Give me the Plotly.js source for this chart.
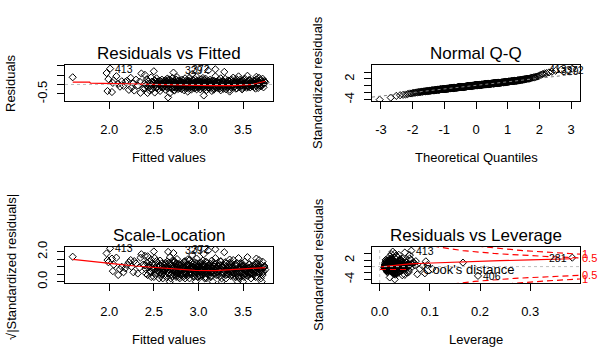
<!DOCTYPE html>
<html><head><meta charset="utf-8">
<script src="https://cdn.plot.ly/plotly-3.0.1.min.js"></script>
<style>html,body{margin:0;padding:0;background:#fff}#chart{width:614px;height:364px}</style>
</head><body><div id="chart"></div>
<script>
// ---- data (lm diagnostics) ----
const fitted = [
 1.97,1.98,1.99,2.03,2.04,2.05,2.08,2.10,2.12,2.14,
 2.16,2.18,2.20,2.22,2.24,2.25,2.27,2.28,2.30,2.32,
 2.34,2.35,2.36,2.38,
 2.40,2.40,2.41,2.41,2.42,2.43,2.44,2.44,2.45,2.46,
 2.46,2.47,2.47,2.48,2.48,2.49,2.50,2.50,2.50,2.51,
 2.51,2.52,2.52,2.53,2.53,2.53,2.54,2.54,2.55,2.55,
 2.56,2.56,2.57,2.57,2.57,2.58,2.58,2.59,2.59,2.59,
 2.60,2.60,2.60,
 2.61,2.61,2.62,2.62,2.63,2.63,2.64,2.64,2.65,2.65,
 2.66,2.66,2.66,2.67,2.67,2.68,2.68,2.68,2.69,2.69,
 2.70,2.70,2.70,2.71,2.71,2.72,2.72,2.72,2.73,2.73,
 2.73,2.74,2.74,2.74,2.75,2.75,2.75,2.76,2.76,2.76,
 2.77,2.77,2.77,2.78,2.78,2.78,2.79,2.79,2.79,2.80,
 2.62,2.64,2.67,2.69,2.71,2.73,2.75,2.77,2.63,2.70,
 2.76,2.79,
 2.80,2.81,2.81,2.81,2.82,2.82,2.82,2.83,2.83,2.83,
 2.84,2.84,2.84,2.85,2.85,2.85,2.86,2.86,2.86,2.87,
 2.87,2.87,2.88,2.88,2.88,2.89,2.89,2.89,2.90,2.90,
 2.90,2.91,2.91,2.91,2.92,2.92,2.92,2.93,2.93,2.93,
 2.94,2.94,2.94,2.95,2.95,2.95,2.96,2.96,2.96,2.97,
 2.97,2.97,2.98,2.98,2.98,2.99,2.99,2.99,3.00,3.00,
 2.83,2.86,2.89,2.92,2.95,2.98,
 3.00,3.01,3.01,3.01,3.02,3.02,3.02,3.03,3.03,3.03,
 3.04,3.04,3.04,3.05,3.05,3.05,3.06,3.06,3.06,3.07,
 3.07,3.07,3.08,3.08,3.08,3.09,3.09,3.09,3.10,3.10,
 3.10,3.11,3.11,3.12,3.12,3.12,3.13,3.13,3.13,3.14,
 3.14,3.14,3.15,3.15,3.15,3.16,3.16,3.16,3.17,3.17,
 3.17,3.18,3.18,3.18,3.19,3.19,3.19,3.20,3.20,3.20,
 3.02,3.05,3.08,3.11,3.14,3.17,3.04,3.13,
 3.21,3.21,3.22,3.22,3.23,3.23,3.24,3.24,3.25,3.25,
 3.26,3.26,3.27,3.27,3.28,3.28,3.29,3.29,3.30,3.30,
 3.31,3.31,3.32,3.32,3.33,3.33,3.34,3.34,3.35,3.35,
 3.36,3.36,3.37,3.37,3.38,3.38,3.39,3.39,3.40,3.40,
 3.22,3.24,3.26,3.28,3.30,3.32,3.34,3.36,3.38,3.23,
 3.27,3.31,3.35,3.39,3.25,3.33,
 3.41,3.41,3.42,3.42,3.43,3.43,3.44,3.44,3.45,3.45,
 3.46,3.46,3.47,3.47,3.48,3.48,3.49,3.49,3.50,3.50,
 3.51,3.51,3.52,3.52,3.53,3.53,3.54,3.54,3.55,3.55,
 3.56,3.56,3.57,3.57,3.58,3.58,3.59,3.59,3.60,3.60,
 3.42,3.44,3.46,3.48,3.50,3.52,3.54,3.56,3.58,3.43,
 3.45,3.47,3.49,3.51,3.53,3.55,3.57,3.59,3.41,3.50,
 3.61,3.61,3.62,3.62,3.63,3.63,3.64,3.64,3.65,3.65,
 3.66,3.66,3.67,3.67,3.68,3.68,3.69,3.69,3.70,3.70,
 3.71,3.71,3.72,3.72,3.73,3.73,3.74,3.75,3.62,3.64,
 3.66,3.68,3.70,3.72,3.74,3.65
];
const stdres = [
 3.6,-2.1,1.7,-2.4,0.5,1.3,2.6,0.2,-0.7,1.0,
 -0.4,0.8,1.25,-1.7,2.1,-1.0,0.4,-1.9,1.5,-0.3,
 0.9,-2.6,3.4,-1.3,
 3.0,-1.2,0.7,-0.3,1.6,0.2,-0.9,1.1,-1.8,0.4,
 -0.5,2.2,-0.1,0.9,-1.5,0.6,4.1,-0.7,0.1,-2.5,
 1.3,-0.2,0.8,-1.1,0.3,1.9,-0.6,0.5,-1.4,1.0,
 -0.05,0.35,-2.0,1.2,-0.4,0.15,0.75,-0.85,1.5,-0.25,
 0.55,-1.0,0.05,
 0.4,-0.8,1.2,-0.2,0.6,-1.6,0.1,0.9,-0.5,1.8,
 -4.0,0.3,-1.1,0.7,-0.35,-2.7,1.4,0.0,-0.7,0.5,
 1.0,-1.3,0.25,-0.15,2.0,3.7,-0.6,0.8,-1.9,0.45,
 1.1,-0.45,0.2,-1.0,0.65,1.5,-0.1,-0.9,0.35,2.3,
 -0.3,0.95,-1.4,0.1,-0.55,1.25,0.7,-1.2,0.05,-0.25,
 0.55,-0.75,1.65,-0.05,0.85,-1.7,0.3,-0.4,1.35,-0.95,
 0.15,-0.65,
 -0.6,0.8,-1.4,0.2,1.5,-0.3,0.55,-0.9,1.1,-0.1,
 0.35,-1.8,0.7,-0.45,1.9,0.05,-1.1,0.4,-0.2,1.3,
 -0.7,0.9,-2.2,0.15,0.6,-0.55,1.2,-1.3,0.3,-0.05,
 2.1,-0.85,0.45,-0.35,1.0,-1.6,0.25,3.2,-0.65,0.75,
 -0.15,1.4,-1.0,0.1,-0.4,0.65,-1.2,1.7,-0.25,0.5,
 -0.8,0.0,1.05,-1.5,0.35,-0.5,0.85,-0.1,1.25,-0.95,
 0.2,-0.3,0.95,-0.7,0.45,2.4,
 0.3,-0.7,1.0,-0.15,0.6,-1.5,0.1,1.6,-0.4,0.45,
 -1.0,0.8,-0.25,2.0,-0.6,0.2,-3.4,0.65,-1.2,0.35,
 1.3,-0.05,-0.85,0.5,1.8,-0.35,0.05,-1.7,0.9,-0.5,
 0.25,1.15,-0.9,-0.2,0.7,-1.3,0.4,1.45,-0.65,0.15,
 -0.1,0.95,-2.0,0.55,-0.45,1.2,-0.8,0.0,0.75,-1.1,
 0.3,-0.3,1.05,-1.4,0.6,2.5,-0.55,0.2,-0.95,0.85,
 -0.2,1.35,0.1,-0.75,0.4,-1.6,0.65,-0.35,
 -0.4,0.9,-1.1,0.2,1.4,-0.6,0.5,-0.15,-1.8,0.75,
 0.05,-0.9,1.1,-0.3,0.35,-1.3,3.9,0.6,-0.5,1.7,
 -0.05,-1.5,0.85,0.25,-0.75,1.25,-0.25,0.45,-2.2,0.95,
 -0.35,0.15,1.55,-1.0,0.65,-0.55,2.1,-0.1,0.3,-0.8,
 0.4,-1.2,0.0,1.0,-0.45,0.55,-0.65,1.35,-0.2,0.7,
 -0.95,0.2,-1.6,0.8,1.9,-0.3,
 0.5,-0.6,1.1,-0.1,0.25,-1.2,0.8,0.0,2.5,-0.4,
 0.65,-0.85,1.5,0.15,-0.3,0.95,-1.5,0.4,1.2,-0.2,
 0.1,-0.7,0.7,1.8,-0.5,0.3,-1.0,0.55,2.7,-0.15,
 0.85,-0.35,0.2,1.3,-0.9,0.45,-0.05,1.0,-0.6,0.35,
 -1.3,0.6,0.05,-0.45,1.05,-0.25,0.75,-0.75,0.3,1.6,
 -0.1,0.9,-1.1,0.2,0.5,-0.55,1.4,-0.3,0.7,0.0,
 0.6,-0.3,1.2,0.2,-0.8,0.9,0.4,-0.1,1.6,-0.5,
 0.75,0.1,-1.1,1.0,0.3,2.1,-0.35,0.55,1.35,-0.6,
 0.85,0.0,-0.2,1.8,0.45,-0.9,1.1,0.65,0.25,-1.3,
 1.45,0.7,-0.05,0.35,0.95,2.4
];
const hat = [
 .060,.090,.072,.075,.095,.068,.060,.055,.080,.050,
 .048,.045,.166,.058,.052,.044,.070,.055,.046,.040,
 .038,.050,.033,.042,
 .035,.028,.045,.032,.040,.052,.030,.036,.026,.048,
 .033,.041,.024,.038,.029,.044,.030,.022,.036,.031,
 .027,.047,.034,.020,.039,.025,.043,.032,.028,.050,
 .023,.037,.030,.026,.042,.034,.021,.045,.029,.033,
 .038,.027,.031,
 .018,.025,.031,.014,.022,.028,.035,.019,.026,.040,
 .030,.016,.024,.033,.020,.045,.027,.013,.029,.022,
 .036,.017,.025,.031,.021,.038,.015,.027,.034,.019,
 .023,.030,.012,.026,.037,.020,.028,.016,.032,.041,
 .018,.025,.029,.014,.022,.034,.019,.027,.015,.024,
 .033,.020,.092,.017,.028,.039,.021,.026,.030,.016,
 .023,.018,
 .021,.015,.027,.012,.019,.024,.010,.031,.017,.022,
 .014,.028,.018,.011,.025,.016,.020,.013,.026,.019,
 .015,.023,.030,.012,.018,.021,.014,.027,.016,.011,
 .024,.019,.013,.022,.017,.029,.012,.020,.015,.025,
 .010,.018,.023,.014,.020,.016,.026,.013,.019,.011,
 .022,.015,.017,.028,.013,.021,.016,.012,.024,.018,
 .086,.014,.019,.105,.013,.022,
 .013,.019,.024,.011,.016,.027,.014,.021,.009,.018,
 .025,.012,.017,.022,.015,.010,.020,.013,.028,.016,
 .011,.023,.018,.014,.026,.012,.019,.015,.021,.010,
 .017,.024,.013,.016,.011,.022,.014,.020,.012,.018,
 .009,.025,.031,.015,.013,.019,.016,.011,.021,.014,
 .018,.012,.017,.023,.015,.020,.013,.016,.024,.011,
 .019,.014,.017,.012,.020,.015,.018,.013,
 .016,.022,.013,.028,.019,.015,.024,.011,.030,.018,
 .014,.021,.026,.012,.020,.017,.023,.013,.027,.019,
 .015,.032,.018,.012,.022,.016,.025,.014,.035,.020,
 .013,.024,.017,.029,.015,.021,.012,.026,.018,.033,
 .014,.023,.016,.020,.012,.027,.019,.015,.031,.017,
 .022,.013,.025,.018,.014,.021,
 .020,.027,.016,.032,.023,.018,.029,.014,.025,.021,
 .035,.017,.026,.019,.030,.015,.024,.038,.019,.028,
 .016,.033,.021,.026,.018,.040,.023,.017,.030,.020,
 .036,.022,.027,.019,.031,.024,.042,.018,.028,.034,
 .025,.020,.037,.022,.029,.019,.033,.024,.045,.021,
 .027,.023,.031,.026,.039,.022,.030,.048,.025,.032,
 .035,.042,.030,.050,.038,.046,.033,.055,.040,.036,
 .048,.031,.058,.044,.037,.062,.041,.034,.052,.045,
 .039,.065,.047,.043,.056,.049,.068,.060,.038,.051,
 .044,.057,.053,.059,.064,.046
];
// the labelled observations
const specialIds    = [281, 329, 372, 406, 413];
const specialFitted = [1.59, 3.11, 3.19, 2.43, 2.01];
const specialStd    = [2.8, 4.4, 4.7, -2.9, 5.0];
const specialHat    = [0.384, 0.050, 0.026, 0.196, 0.063];
const sigma = 0.174;      // residual standard error
const nCoef = 10;         // number of coefficients
const cookLevels = [0.5, 1];
// red smoothers
const smooth1F = [1.59, 1.78, 1.79, 2.33, 2.48, 2.95, 3.15, 3.40, 3.61, 3.75];
const smooth1R = [0.12, 0.12, 0.07, 0.01, 0.0, -0.03, -0.06, -0.06, 0.01, 0.17];
const smooth3F = [1.59, 1.84, 2.06, 2.29, 2.51, 2.74, 2.96, 3.19, 3.37, 3.56, 3.75];
const smooth3V = [1.50, 1.32, 1.19, 1.05, 0.94, 0.83, 0.76, 0.74, 0.79, 0.87, 0.94];
const smooth4H = [0.003, 0.02, 0.04, 0.06, 0.09, 0.13, 0.18, 0.24, 0.30, 0.384];
const smooth4S = [-0.1, 0.2, 0.55, 0.85, 1.05, 1.3, 1.55, 1.85, 2.1, 2.45];

// ---- derived quantities (as plot.lm does) ----
function qnorm(p){
  const a=[-3.969683028665376e+01,2.209460984245205e+02,-2.759285104469687e+02,1.383577518672690e+02,-3.066479806614716e+01,2.506628277459239e+00];
  const b=[-5.447609879822406e+01,1.615858368580409e+02,-1.556989798598866e+02,6.680131188771972e+01,-1.328068155288572e+01];
  const c=[-7.784894002430293e-03,-3.223964580411365e-01,-2.400758277161838e+00,-2.549671084740910e+00,4.374664141464968e+00,2.938163982698783e+00];
  const d=[7.784695709041462e-03,3.224671290700398e-01,2.445134137142996e+00,3.754408661907416e+00];
  const pl=0.02425;
  if(p<pl){const q=Math.sqrt(-2*Math.log(p));return (((((c[0]*q+c[1])*q+c[2])*q+c[3])*q+c[4])*q+c[5])/((((d[0]*q+d[1])*q+d[2])*q+d[3])*q+1);}
  if(p>1-pl){const q=Math.sqrt(-2*Math.log(1-p));return -(((((c[0]*q+c[1])*q+c[2])*q+c[3])*q+c[4])*q+c[5])/((((d[0]*q+d[1])*q+d[2])*q+d[3])*q+1);}
  const q=p-0.5,r=q*q;return (((((a[0]*r+a[1])*r+a[2])*r+a[3])*r+a[4])*r+a[5])*q/(((((b[0]*r+b[1])*r+b[2])*r+b[3])*r+b[4])*r+1);
}
const m = Math.min(fitted.length, stdres.length, hat.length);
const F = fitted.slice(0,m).concat(specialFitted);
const S = stdres.slice(0,m).concat(specialStd);
const H = hat.slice(0,m).concat(specialHat);
const n = F.length;
const ids = []; {let k=1; for(let i=0;i<m;i++){while(specialIds.includes(k))k++; ids.push(k++);} ids.push(...specialIds);}
const R = S.map((s,i)=>s*sigma*Math.sqrt(1-H[i]));
const SQ = S.map(s=>Math.sqrt(Math.abs(s)));
const ord = [...Array(n).keys()].sort((a,b)=>S[a]-S[b]);
const aP = n<=10?3/8:0.5;
const QX = new Array(n); ord.forEach((idx,rank)=>{QX[idx]=qnorm((rank+1-aP)/(n+1-2*aP));});
const srt = ord.map(i=>S[i]);
function quant(v,p){const h=(v.length-1)*p,lo=Math.floor(h);return v[lo]+(h-lo)*(v[Math.min(lo+1,v.length-1)]-v[lo]);}
const qSlope=(quant(srt,.75)-quant(srt,.25))/(qnorm(.75)-qnorm(.25));
const qInt=quant(srt,.25)-qSlope*qnorm(.25);
const cook = S.map((s,i)=>s*s*H[i]/(nCoef*(1-H[i])));
const top3 = v=>[...Array(n).keys()].sort((a,b)=>v[b]-v[a]).slice(0,3);
const showR = top3(R.map(Math.abs)), showS = top3(S.map(Math.abs)), showC = top3(cook);

// ---- axis ranges (R style: data range, extended) ----
const ext=(lo,hi,f)=>[lo-(hi-lo)*f,hi+(hi-lo)*f];
const fr = ext(Math.min(...F),Math.max(...F),0.04);
const r1 = ext(...ext(Math.min(...R),Math.max(...R),0.08),0.04);
const qxr = ext(Math.min(...QX),Math.max(...QX),0.04);
const sLo=Math.min(...S), sHi=Math.max(...S);
const r2 = ext(sLo, sHi+(sHi-sLo)*0.075, 0.04);
const r3 = ext(0, Math.max(...SQ), 0.04);
const hr = ext(0, Math.max(...H), 0.04);
const r4 = ext(...ext(sLo,sHi,0.08),0.04);

const FONT = 'Liberation Sans, Arial, sans-serif';
const W=614, Hh=364;
const px = v=>v/W, py = v=>1-v/Hh;
const dom = {x1:[px(65),px(273)], x2:[px(372),px(580)], yt:[py(101),py(65)], yb:[py(283),py(247)]};

const mk = {symbol:'diamond-open', size:5.5, color:'black', line:{width:1, color:'black'}};
const pts = (x,y,xa,ya)=>({type:'scatter',mode:'markers',x,y,xaxis:xa,yaxis:ya,marker:mk,hoverinfo:'skip'});
const red = (x,y,xa,ya,dash)=>({type:'scatter',mode:'lines',x,y,xaxis:xa,yaxis:ya,line:{color:'red',width:1.2,dash:dash||'solid'},hoverinfo:'skip'});

// cook contours
const hh=[]; {const h0=Math.min(Math.min(...H),Math.max(...H)/100); for(let i=0;i<=100;i++) hh.push(h0+(hr[1]-h0)*i/100);}
const cookTraces=[];
cookLevels.forEach(cl=>{
  const yv=hh.map(h=>Math.sqrt(cl*nCoef*(1-h)/h));
  cookTraces.push(red(hh,yv,'x4','y5','6px,4px'));
  cookTraces.push(red(hh,yv.map(v=>-v),'x4','y5','6px,4px'));
});
const xmax=Math.min(0.99,hr[1]);
const ymult=Math.sqrt(nCoef*(1-xmax)/xmax);
const aty=cookLevels.map(c=>Math.sqrt(c)*ymult);

const data = [
  pts(F,R,'x','y'), red(smooth1F,smooth1R,'x','y'),
  pts(QX,S,'x2','y2'),
  pts(F,SQ,'x3','y3'), red(smooth3F,smooth3V,'x3','y3'),
  pts(H,S,'x4','y4'), red(smooth4H,smooth4S,'x4','y4'),
  ...cookTraces
];

const ax = (o)=>Object.assign({showgrid:false,zeroline:false,showline:true,mirror:true,linecolor:'black',linewidth:1,
  ticks:'outside',ticklen:7,tickwidth:1,tickcolor:'black',tickfont:{family:FONT,size:13,color:'black'},fixedrange:true},o);
const xl = v=>v.toFixed(1);
const layout = {
  width:W,height:Hh,margin:{l:0,r:0,t:0,b:0},paper_bgcolor:'white',plot_bgcolor:'white',showlegend:false,
  font:{family:FONT,color:'black'},
  xaxis: ax({domain:dom.x1,anchor:'y',range:fr,tickvals:[2,2.5,3,3.5],ticktext:[2,2.5,3,3.5].map(xl),ticklabelstandoff:9}),
  yaxis: ax({domain:dom.yt,anchor:'x',range:r1,tickvals:[-0.5,0,0.5,1],ticktext:['-0.5','','',''],tickangle:-90,ticklabelstandoff:5}),
  xaxis2: ax({domain:dom.x2,anchor:'y2',range:qxr,tickvals:[-3,-2,-1,0,1,2,3],ticktext:['-3','-2','-1','0','1','2','3'],ticklabelstandoff:9}),
  yaxis2: ax({domain:dom.yt,anchor:'x2',range:r2,tickvals:[-4,-2,0,2,4],ticktext:['-4','','','2',''],tickangle:-90,ticklabelstandoff:5}),
  xaxis3: ax({domain:dom.x1,anchor:'y3',range:fr,tickvals:[2,2.5,3,3.5],ticktext:[2,2.5,3,3.5].map(xl),ticklabelstandoff:9}),
  yaxis3: ax({domain:dom.yb,anchor:'x3',range:r3,tickvals:[0,0.5,1,1.5,2],ticktext:['0.0','','','','2.0'],tickangle:-90,ticklabelstandoff:5}),
  xaxis4: ax({domain:dom.x2,anchor:'y4',range:hr,tickvals:[0,0.1,0.2,0.3],ticktext:['0.0','0.1','0.2','0.3'],ticklabelstandoff:9}),
  yaxis4: ax({domain:dom.yb,anchor:'x4',range:r4,tickvals:[-4,-2,0,2,4],ticktext:['-4','','','2',''],tickangle:-90,ticklabelstandoff:5}),
  yaxis5: {overlaying:'y4',side:'right',anchor:'x4',range:r4,showgrid:false,zeroline:false,showline:false,ticks:'',
    tickvals:[...aty.map(v=>-v).reverse(),...aty],ticktext:[...cookLevels.slice().reverse(),...cookLevels].map(String),
    tickfont:{family:FONT,size:11,color:'red'},ticklabelstandoff:1,fixedrange:true},
  shapes:[
    {type:'line',xref:'x domain',yref:'y',x0:0,x1:1,y0:0,y1:0,line:{color:'#bebebe',width:1,dash:'dot'}},
    {type:'line',xref:'x2',yref:'y2',x0:qxr[0],x1:qxr[1],y0:qInt+qSlope*qxr[0],y1:qInt+qSlope*qxr[1],line:{color:'#7f7f7f',width:1,dash:'dot'}},
    {type:'line',xref:'x4 domain',yref:'y4',x0:0,x1:1,y0:0,y1:0,line:{color:'#bebebe',width:1,dash:'dot'}},
    {type:'line',xref:'x4',yref:'y4 domain',x0:0,x1:0,y0:0,y1:1,line:{color:'#bebebe',width:1,dash:'dot'}},
    {type:'line',xref:'paper',yref:'paper',x0:px(380),x1:px(409),y0:py(269.5),y1:py(269.5),line:{color:'red',width:1,dash:'6px,4px'}}
  ],
  annotations:[]
};
const ann = (text,x,y,size,angle)=>({text,x:px(x),y:py(y),xref:'paper',yref:'paper',showarrow:false,xanchor:'center',yanchor:'middle',textangle:angle||0,font:{family:FONT,size,color:'black'}});
layout.annotations.push(
  ann('Residuals vs Fitted',169,53,17), ann('Normal Q-Q',476,53,17),
  ann('Scale-Location',169,235,17), ann('Residuals vs Leverage',476,235,17),
  ann('Fitted values',169,157.5,13), ann('Theoretical Quantiles',476,157.5,13),
  ann('Fitted values',169,339,13), ann('Leverage',476,339,13),
  ann('Residuals',11,83,13,-90), ann('Standardized residuals',318,83,13,-90),
  ann('√|Standardized residuals|',11,267,13,-90), ann('Standardized residuals',318,265,13,-90)
);
layout.annotations.push({text:"Cook's distance",x:px(421),y:py(269.5),xref:'paper',yref:'paper',showarrow:false,xanchor:'left',yanchor:'middle',font:{family:FONT,size:13,color:'black'}});
function idLabels(xs,ys,idx,xr,yr){
  const xv=idx.map(i=>xs[i]); const mid=(Math.min(...xv)+Math.max(...xv))/2;
  return idx.map(i=>{const right=xs[i]>mid; return {text:String(ids[i]),x:xs[i],y:ys[i],xref:xr,yref:yr,showarrow:false,
    xanchor:right?'right':'left',xshift:right?-3:3,yanchor:'middle',font:{family:FONT,size:10.5,color:'black'}};});
}
layout.annotations.push(...idLabels(F,R,showR,'x','y'), ...idLabels(QX,S,showS,'x2','y2'),
  ...idLabels(F,SQ,showS,'x3','y3'), ...idLabels(H,S,showC,'x4','y4'));
Plotly.newPlot('chart',data,layout,{staticPlot:true,displayModeBar:false});
</script></body></html>
